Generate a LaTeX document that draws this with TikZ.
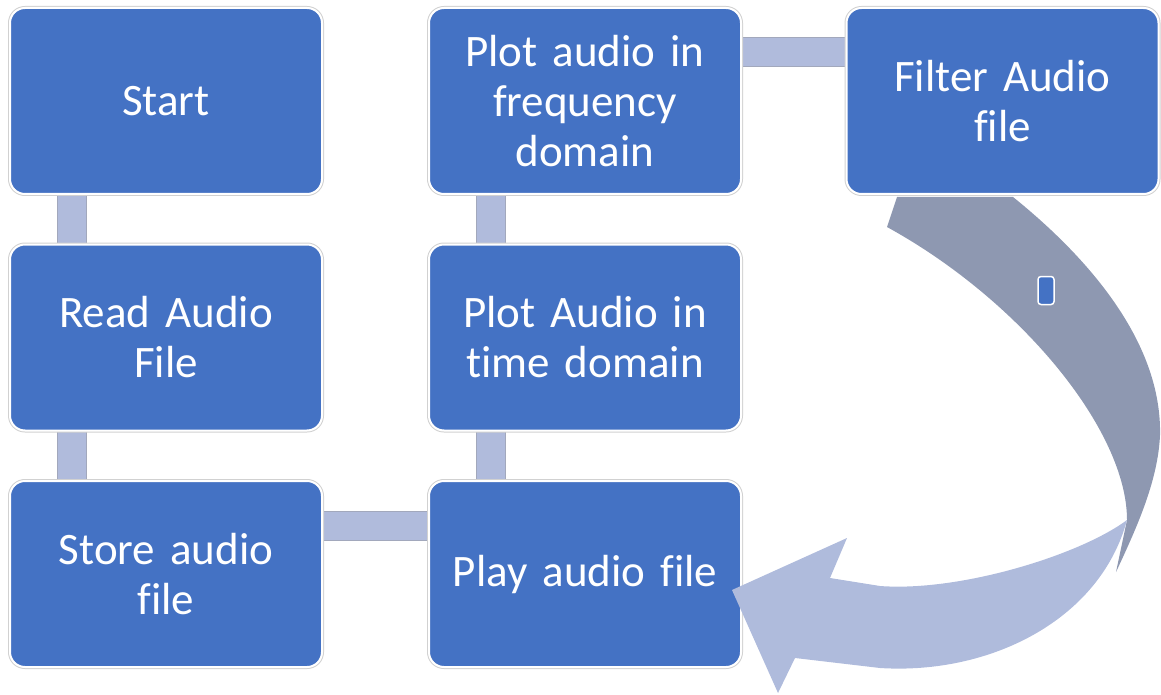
\documentclass[tikz,border=0pt]{standalone}
\usepackage{fontspec}
\setmainfont{Carlito}[Ligatures={NoCommon}, WordSpace=0.7]
\usetikzlibrary{backgrounds}
\definecolor{boxblue}{HTML}{4472C4}
\definecolor{barfill}{HTML}{B0BBDC}
\definecolor{baredge}{HTML}{A2A8BC}
\definecolor{banddark}{HTML}{8E98B1}
\definecolor{bandlight}{HTML}{AFBBDC}
\begin{document}
\begin{tikzpicture}[x=1pt,y=-1pt,
  stepbox/.style={rectangle, rounded corners=15pt, fill=boxblue, draw=white,
    line width=2pt, preaction={draw=black!18, line width=4pt},
    minimum width=312pt, minimum height=186pt, text width=300pt, align=center,
    text=white, font=\fontsize{45}{50}\selectfont, inner sep=0pt},
  bar/.style={line width=28pt, draw=barfill, preaction={draw=baredge, line width=30pt}},
  minirect/.style={rectangle, rounded corners=3pt, fill=boxblue, draw=white,
    line width=1.5pt, minimum width=16pt, minimum height=28pt, inner sep=0pt}]
\useasboundingbox (0,0) rectangle (1161,695);

% process steps
\node[stepbox] (start)  at (166,101)   {Start};
\node[stepbox] (read)   at (166,337.5) {Read Audio\\File};
\node[stepbox] (store)  at (166,574)   {Store audio\\file};
\node[stepbox] (freq)   at (585,101)   {Plot audio in\\frequency\\domain};
\node[stepbox] (time)   at (585,337.5) {Plot Audio in\\time domain};
\node[stepbox] (play)   at (585,574)   {Play audio file};
\node[stepbox] (filter) at (1002.5,101) {Filter Audio\\file};

% connecting bars behind the steps
\begin{scope}[on background layer]
  \draw[bar] ([xshift=62.5pt]start.south west) -- ([xshift=62.5pt]read.north west);
  \draw[bar] ([xshift=62.5pt]read.south west)  -- ([xshift=62.5pt]store.north west);
  \draw[bar] ([yshift=-45.5pt]store.north east) -- ([yshift=-45.5pt]play.north west);
  \draw[bar] ([xshift=62.5pt]play.north west)  -- ([xshift=62.5pt]time.south west);
  \draw[bar] ([xshift=62.5pt]time.north west)  -- ([xshift=62.5pt]freq.south west);
  \draw[bar] ([yshift=-45.5pt]freq.north east) -- ([yshift=-45.5pt]filter.north west);
\end{scope}

% curved return arrow, dark back side
\fill[banddark] (887,227) -- (897,197) -- (1013,197)
  .. controls (1085,255) and (1162,340) .. (1160,435)
  .. controls (1158,480) and (1138,525) .. (1116,572)
  -- (1127,520)
  .. controls (1127,430) and (1020,300) .. (887,227) -- cycle;

% curved return arrow, light front side with head
\fill[bandlight] (1127,520)
  .. controls (1080,555) and (960,592) .. (880,586)
  -- (830,578) -- (847,538) -- (732,590) -- (778,693) -- (795,658)
  -- (880,668)
  .. controls (990,675) and (1100,620) .. (1127,520) -- cycle;

\node[minirect] (mark) at (1046,290.5) {};
\end{tikzpicture}
\end{document}
